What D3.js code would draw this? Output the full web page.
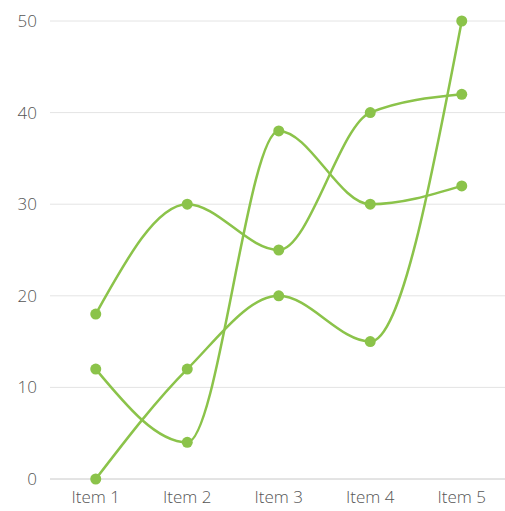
<!DOCTYPE html>
<html><head><meta charset="utf-8">
<script src="https://cdn.jsdelivr.net/npm/d3@7"></script>
<style>body{margin:0;background:#fff;}svg{display:block;font-family:"Open Sans",sans-serif;font-weight:300;}</style>
</head><body><svg id="c" width="505" height="511"></svg>
<script>
const categories = ["Item 1","Item 2","Item 3","Item 4","Item 5"];
const seriesA = [18, 30, 25, 40, 42];
const seriesB = [12, 4, 38, 30, 32];
const seriesC = [0, 12, 20, 15, 50];
const yTicks = [0, 10, 20, 30, 40, 50];
const allSeries = [seriesA, seriesB, seriesC];

(function(){
const svg = d3.select("#c");
const mLeft = 50, mRight = 507.5, mTop = 21, mBottom = 479;
const x = d3.scaleBand().domain(categories).range([mLeft, mRight]);
const y = d3.scaleLinear().domain([0, 50]).range([mBottom, mTop]);
const color = "#8bc34a";

svg.append("g").selectAll("line").data(yTicks).join("line")
  .attr("x1", mLeft).attr("x2", 505)
  .attr("y1", d => y(d)).attr("y2", d => y(d))
  .attr("stroke", d => d === 0 ? "#c8c8c8" : "#e4e4e4").attr("stroke-width", 1);

svg.append("g").selectAll("text").data(yTicks).join("text")
  .attr("x", 37).attr("y", d => y(d)).attr("dy", "0.35em")
  .attr("text-anchor", "end").attr("font-size", 17).attr("fill", "#555")
  .text(d => d);

svg.append("g").selectAll("text").data(categories).join("text")
  .attr("x", d => x(d) + x.bandwidth() / 2).attr("y", 503)
  .attr("text-anchor", "middle").attr("font-size", 17).attr("fill", "#555")
  .text(d => d);

const line = d3.line()
  .x((d, i) => x(categories[i]) + x.bandwidth() / 2)
  .y(d => y(d))
  .curve(d3.curveMonotoneX);

allSeries.forEach(s => {
  svg.append("path").attr("d", line(s)).attr("fill", "none")
    .attr("stroke", color).attr("stroke-width", 2.5);
});
allSeries.forEach(s => {
  svg.append("g").selectAll("circle").data(s).join("circle")
    .attr("cx", (d, i) => x(categories[i]) + x.bandwidth() / 2)
    .attr("cy", d => y(d)).attr("r", 5.5).attr("fill", color);
});
})();
</script></body></html>
